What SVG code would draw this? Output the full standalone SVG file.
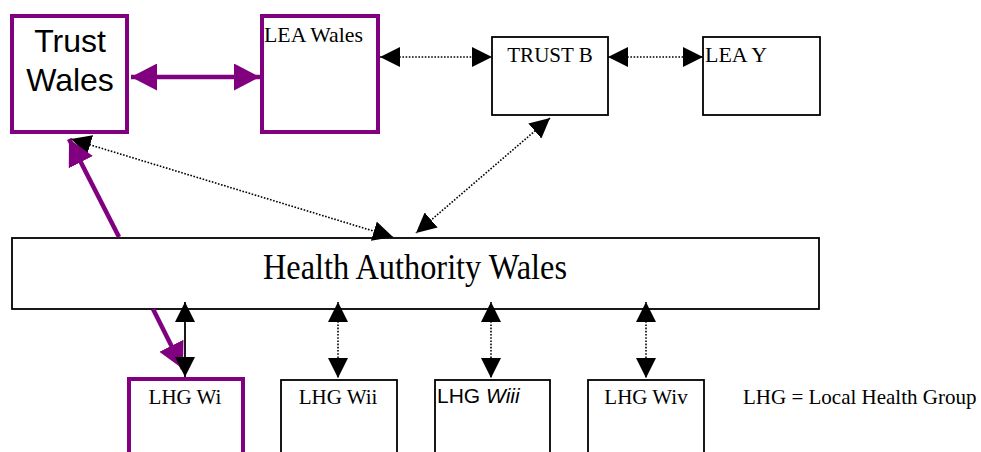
<svg xmlns="http://www.w3.org/2000/svg" width="981" height="452" viewBox="0 0 981 452">
  <style>
    .pbox { fill: #fff; stroke: #800080; stroke-width: 4; }
    .bbox { fill: #fff; stroke: #000; stroke-width: 1.8; }
    .tnr { font-family: "Liberation Serif", "Times New Roman", serif; font-size: 21px; fill: #000; }
    .big { font-size: 36px; }
    .ari { font-family: "Liberation Sans", Arial, sans-serif; fill: #000; }
    .dot { fill: none; stroke: #000; stroke-width: 1.6; stroke-dasharray: 1.6 1.6; }
    .solid { fill: none; stroke: #000; stroke-width: 1.8; }
    .purp { fill: none; stroke: #800080; stroke-width: 4.5; }
  </style>
  <defs>
    <marker id="ab" markerUnits="userSpaceOnUse" markerWidth="20" markerHeight="20" viewBox="0 0 20 20" refX="20" refY="10" orient="auto-start-reverse">
      <path d="M0,0 L20,10 L0,20 z" fill="#000"/>
    </marker>
    <marker id="ap" markerUnits="userSpaceOnUse" markerWidth="26" markerHeight="27" viewBox="0 0 26 27" refX="26" refY="13.5" orient="auto-start-reverse">
      <path d="M0,0 L26,13.5 L0,27 z" fill="#800080"/>
    </marker>
  </defs>

  <g id="trust-wales">
    <rect class="pbox" x="12" y="16" width="115" height="116"/>
    <text class="ari" x="70" y="52" font-size="32" text-anchor="middle">Trust</text>
    <text class="ari" x="70" y="91" font-size="32" text-anchor="middle">Wales</text>
  </g>
  <g id="lea-wales">
    <rect class="pbox" x="262" y="16" width="116" height="116"/>
    <text class="tnr" x="264" y="42" textLength="99" lengthAdjust="spacingAndGlyphs">LEA Wales</text>
  </g>
  <g id="trust-b">
    <rect class="bbox" x="492" y="37" width="116" height="78"/>
    <text class="tnr" x="550" y="62" text-anchor="middle">TRUST B</text>
  </g>
  <g id="lea-y">
    <rect class="bbox" x="703" y="37" width="117" height="78"/>
    <text class="tnr" x="705" y="62" textLength="62" lengthAdjust="spacingAndGlyphs">LEA Y</text>
  </g>
  <g id="health-authority-wales">
    <rect class="bbox" x="12" y="238" width="807" height="71"/>
    <text class="tnr big" x="415" y="279" text-anchor="middle" textLength="304" lengthAdjust="spacingAndGlyphs">Health Authority Wales</text>
  </g>
  <g id="lhg-wi">
    <rect class="pbox" x="129" y="379" width="114" height="100"/>
    <text class="tnr" x="185" y="404" text-anchor="middle">LHG Wi</text>
  </g>
  <g id="lhg-wii">
    <rect class="bbox" x="281" y="380" width="116" height="100"/>
    <text class="tnr" x="338" y="404" text-anchor="middle">LHG Wii</text>
  </g>
  <g id="lhg-wiii">
    <rect class="bbox" x="435" y="380" width="115" height="100"/>
    <text class="ari" x="437" y="403" font-size="21">LHG <tspan font-style="italic">Wiii</tspan></text>
  </g>
  <g id="lhg-wiv">
    <rect class="bbox" x="588" y="380" width="116" height="100"/>
    <text class="tnr" x="646" y="404" text-anchor="middle">LHG Wiv</text>
  </g>
  <g id="legend">
    <text class="tnr" x="743" y="404">LHG = Local Health Group</text>
  </g>

  <g id="connectors">
    <line class="purp" x1="131" y1="77" x2="260" y2="77" marker-start="url(#ap)" marker-end="url(#ap)"/>
    <line class="dot" x1="380" y1="57" x2="492" y2="57" marker-start="url(#ab)" marker-end="url(#ab)"/>
    <line class="dot" x1="608" y1="57" x2="703" y2="57" marker-start="url(#ab)" marker-end="url(#ab)"/>
    <line class="dot" x1="550" y1="118" x2="416" y2="233" marker-start="url(#ab)" marker-end="url(#ab)"/>
    <line class="dot" x1="71" y1="139" x2="393" y2="237" marker-start="url(#ab)" marker-end="url(#ab)"/>
    <line class="purp" x1="119" y1="237" x2="69" y2="139" marker-end="url(#ap)"/>
    <line class="purp" x1="153" y1="309" x2="183" y2="369" marker-end="url(#ap)"/>
    <line class="solid" x1="185" y1="302" x2="185" y2="377" marker-start="url(#ab)" marker-end="url(#ab)"/>
    <line class="dot" x1="338" y1="302" x2="338" y2="378" marker-start="url(#ab)" marker-end="url(#ab)"/>
    <line class="dot" x1="491" y1="302" x2="491" y2="378" marker-start="url(#ab)" marker-end="url(#ab)"/>
    <line class="dot" x1="646" y1="302" x2="646" y2="378" marker-start="url(#ab)" marker-end="url(#ab)"/>
  </g>
</svg>
